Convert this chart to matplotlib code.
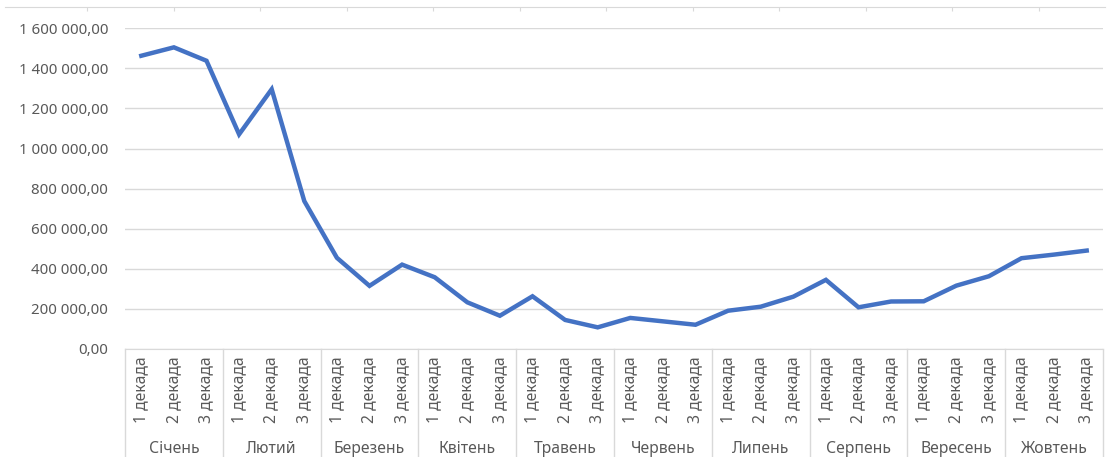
import matplotlib.pyplot as plt
from matplotlib.ticker import FuncFormatter, MultipleLocator

plt.rcParams['font.family'] = ['Noto Sans', 'DejaVu Sans']

# data
months = ['Січень', 'Лютий', 'Березень', 'Квітень', 'Травень',
          'Червень', 'Липень', 'Серпень', 'Вересень', 'Жовтень']
decades = ['1 декада', '2 декада', '3 декада']
values = [1463000, 1505000, 1438000,
          1071000, 1296000, 738000,
          455000, 315000, 421000,
          358000, 233000, 166000,
          263000, 145000, 108000,
          155000, 138000, 121000,
          191000, 211000, 261000,
          345000, 208000, 237000,
          238000, 316000, 363000,
          453000, 471000, 491000]

W, H = 1108, 457
txt = '#595959'
grid = '#D9D9D9'

fig = plt.figure(figsize=(W / 100, H / 100), dpi=100)
ax = fig.add_axes([125 / W, 1 - 349 / H, (1103 - 125) / W, (349 - 28.3) / H])

x = list(range(len(values)))
ax.plot(x, values, color='#4472C4', lw=3.2, solid_joinstyle='miter', zorder=3)

ax.set_xlim(-0.5, len(values) - 0.5)
ax.set_ylim(0, 1600000)
ax.yaxis.set_major_locator(MultipleLocator(200000))

def fmt(v, pos):
    s = '{:,.2f}'.format(v).replace(',', ' ').replace('.', ',')
    return s

ax.yaxis.set_major_formatter(FuncFormatter(fmt))
ax.grid(axis='y', color=grid, lw=1)
ax.set_axisbelow(True)
for s in ['left', 'right', 'top']:
    ax.spines[s].set_visible(False)
ax.spines['bottom'].set_color(grid)
ax.tick_params(axis='y', length=0, pad=12, labelsize=10.8, labelcolor=txt)

# decade labels (inner level)
ax.set_xticks(x)
ax.set_xticklabels([decades[i % 3] for i in x], rotation=90, va='top')
ax.tick_params(axis='x', length=0, pad=5, labelsize=11.3, labelcolor=txt)

# month labels (outer level) and separators
tr = ax.get_xaxis_transform()
for i, m in enumerate(months):
    ax.text(i * 3 + 1, -0.312, m, transform=tr, ha='center', va='center',
            fontsize=11.3, color=txt)
for i in range(len(months) + 1):
    b = i * 3 - 0.5
    ax.plot([b, b], [0, -0.4], transform=tr, color=grid, lw=1, clip_on=False)

# remnant border of the chart above
top = fig.add_axes([5 / W, 1 - 7 / H, 1100 / W, 0.0001])
top.xaxis.set_major_locator(MultipleLocator(86.5))
top.set_yticks([])
for s in ['left', 'right', 'bottom']:
    top.spines[s].set_visible(False)
top.spines['top'].set_color(grid)
top.xaxis.tick_top()
top.tick_params(axis='x', direction='in', length=3, color=grid, labeltop=False)
top.set_xlim(-82, 1018)

fig.savefig('out.png', dpi=100)
